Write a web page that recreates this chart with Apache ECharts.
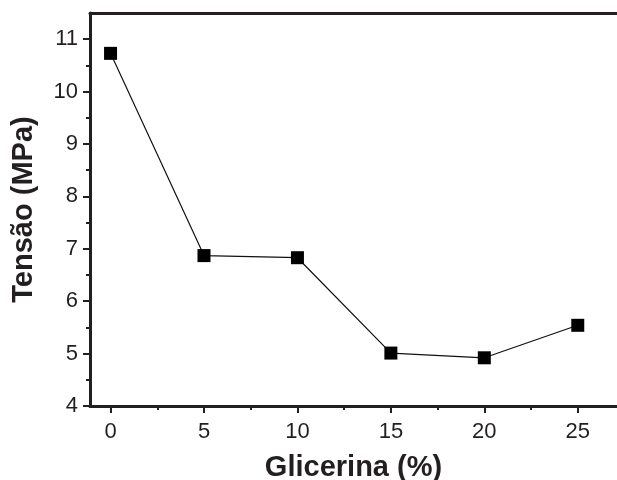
<!DOCTYPE html>
<html>
<head>
<meta charset="utf-8">
<script src="https://cdn.jsdelivr.net/npm/echarts@6/dist/echarts.min.js"></script>
<style>
  html, body { margin: 0; padding: 0; background: #fff; }
  #chart { width: 617px; height: 480px; }
</style>
</head>
<body>
<div id="chart"></div>
<script>
// dados
const glicerina = [0, 5, 10, 15, 20, 25]
const tensao = [10.73, 6.87, 6.83, 5.01, 4.92, 5.54]
const xTicks = [0, 5, 10, 15, 20, 25]
const xMinorTicks = [2.5, 7.5, 12.5, 17.5, 22.5]
const yTicks = [4, 5, 6, 7, 8, 9, 10, 11]
const yMinorTicks = [4.5, 5.5, 6.5, 7.5, 8.5, 9.5, 10.5]

const ink = '#231f20'
const font = 'Liberation Sans, Arial, sans-serif'
const xMin = -1.1, xMax = 27.1
const yMin = 4, yMax = 11.5

let chart = echarts.init(document.getElementById('chart'), null, { renderer: 'canvas' })

chart.setOption({
    animation: false,
    backgroundColor: '#fff',
    grid: { left: 90, right: 0, top: 13, bottom: 74, containLabel: false, outerBoundsMode: 'none' },
    xAxis: [
        {
            type: 'value', position: 'bottom', min: xMin, max: xMax,
            name: 'Glicerina (%)', nameLocation: 'middle', nameGap: 47,
            nameTextStyle: { fontFamily: font, fontWeight: 'bold', fontSize: 29, color: ink },
            axisLine: { show: true, onZero: false, lineStyle: { color: ink, width: 3 } },
            axisTick: { show: true, inside: false, length: 7, customValues: xTicks, lineStyle: { color: ink, width: 2 } },
            axisLabel: { customValues: xTicks, margin: 15, fontFamily: font, fontSize: 22, color: ink },
            splitLine: { show: false }
        },
        {
            // ticks menores
            type: 'value', position: 'bottom', min: xMin, max: xMax,
            axisLine: { show: false, onZero: false },
            axisTick: { show: true, inside: false, length: 4, customValues: xMinorTicks, lineStyle: { color: ink, width: 2 } },
            axisLabel: { show: false },
            splitLine: { show: false }
        },
        {
            // borda de cima
            type: 'value', position: 'top', min: xMin, max: xMax,
            axisLine: { show: true, onZero: false, lineStyle: { color: ink, width: 3 } },
            axisTick: { show: false },
            axisLabel: { show: false },
            splitLine: { show: false }
        }
    ],
    yAxis: [
        {
            type: 'value', position: 'left', min: yMin, max: yMax,
            name: 'Tensão (MPa)', nameLocation: 'middle', nameGap: 52, nameRotate: 90,
            nameTextStyle: { fontFamily: font, fontWeight: 'bold', fontSize: 29, color: ink },
            axisLine: { show: true, onZero: false, lineStyle: { color: ink, width: 3 } },
            axisTick: { show: true, inside: false, length: 7, customValues: yTicks, lineStyle: { color: ink, width: 2 } },
            axisLabel: { customValues: yTicks, margin: 12, fontFamily: font, fontSize: 22, color: ink },
            splitLine: { show: false }
        },
        {
            type: 'value', position: 'left', min: yMin, max: yMax,
            axisLine: { show: false, onZero: false },
            axisTick: { show: true, inside: false, length: 4, customValues: yMinorTicks, lineStyle: { color: ink, width: 2 } },
            axisLabel: { show: false },
            splitLine: { show: false }
        }
    ],
    series: [
        {
            type: 'line',
            xAxisIndex: 0,
            yAxisIndex: 0,
            data: glicerina.map((g, i) => [g, tensao[i]]),
            symbol: 'rect',
            symbolSize: 13,
            itemStyle: { color: '#000' },
            lineStyle: { color: '#111', width: 1.2 }
        }
    ]
})
</script>
</body>
</html>
